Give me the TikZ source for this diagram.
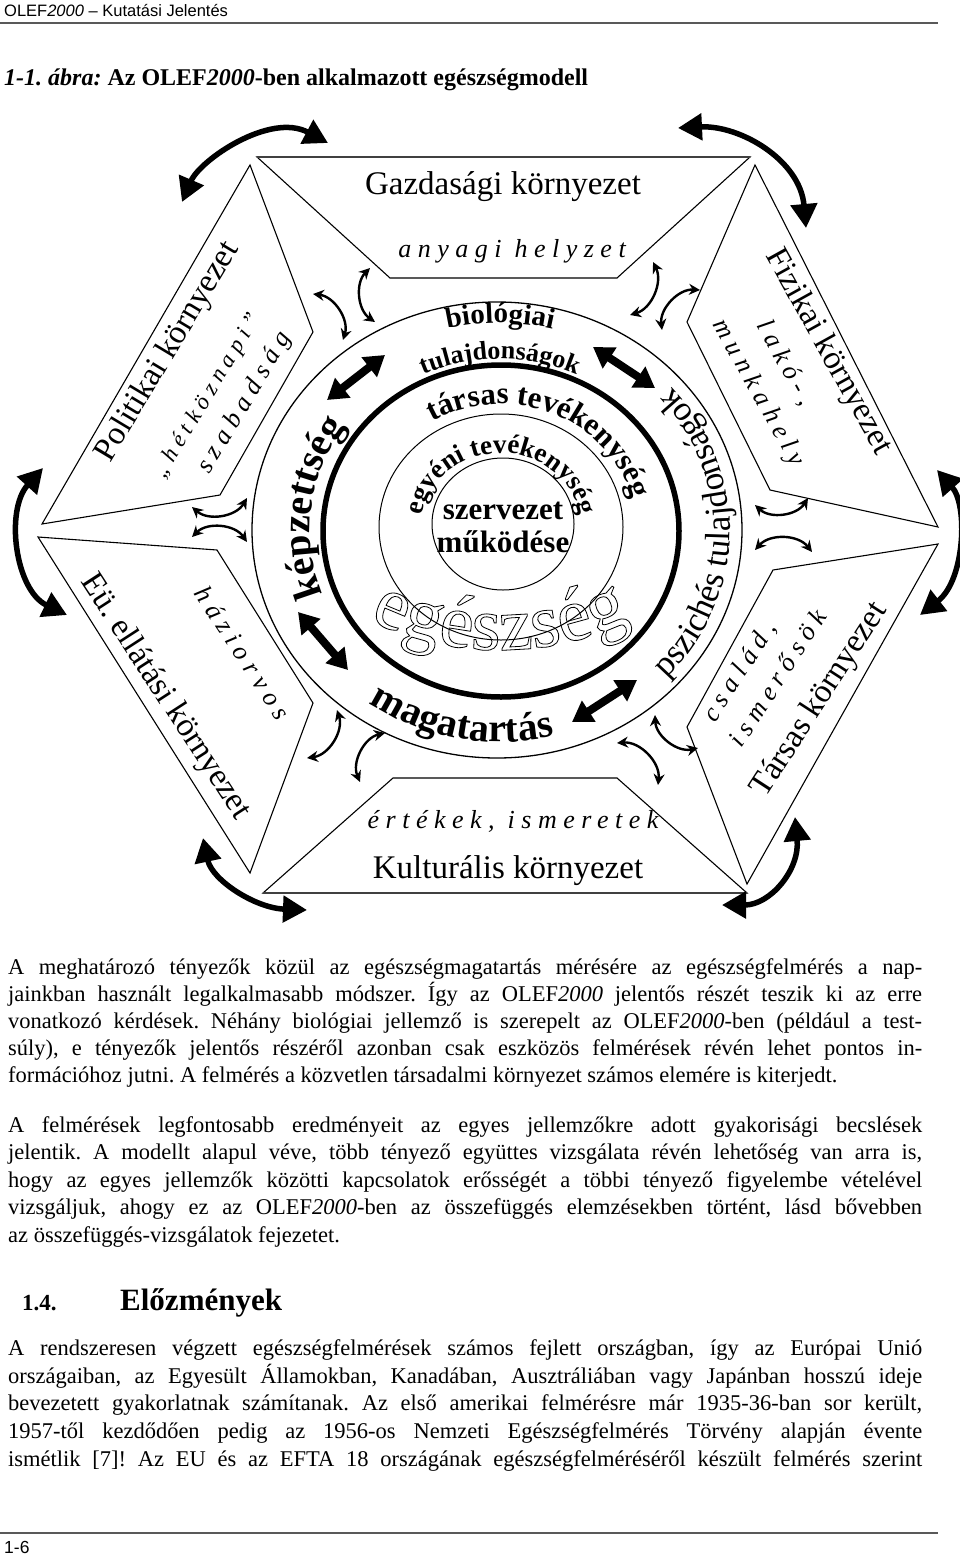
\documentclass[tikz,border=0pt]{standalone}
\usepackage{fontspec}
\setmainfont{Liberation Serif}
\newfontfamily\sansf{Liberation Sans}
\newfontfamily\scrf[LetterSpace=25]{Liberation Serif}
\usetikzlibrary{decorations.text,arrows.meta}
\newcommand\bodyfont{\fontsize{22.5}{27}\selectfont}
\newcommand\jline[1]{\makebox[914pt][s]{#1}}
\newcommand\scrtext{\fontsize{26}{30}\selectfont\scrf\itshape}
\newcommand\envfont{\fontsize{33}{36}\selectfont}
\newcommand\outlinemode{\special{pdf:literal direct 1 Tr 0.8 w}}
\newcommand\fillmode{\special{pdf:literal direct 0 Tr}}
\frenchspacing
\begin{document}
\begin{tikzpicture}[x=1pt,y=-1pt,
  shapeline/.style={line width=1.1pt, line join=miter},
  bigarr/.style={line width=5.5pt, {Triangle[length=24pt,width=26pt]}-{Triangle[length=24pt,width=26pt]}},
  smallarr/.style={line width=2.4pt, {Stealth[length=11pt,width=11pt]}-{Stealth[length=11pt,width=11pt]}},
  thickarr/.style={line width=8pt, {Triangle[length=20pt,width=24pt]}-{Triangle[length=20pt,width=24pt]}},
  rt/.style={inner sep=0pt},
]
\useasboundingbox (0,0) rectangle (960,1555);
\fill[white] (0,0) rectangle (960,1555);

% header
\node[rt, anchor=base west] (head) at (4,17) {\sansf\fontsize{16.5}{18}\selectfont OLEF\textit{2000} – Kutatási Jelentés};
\coordinate (hl1) at (0,23); \coordinate (hl2) at (938,23);
\draw[line width=2pt, black!65] (hl1) -- (hl2);
\node[rt, anchor=base west] (title) at (4,85) {\fontsize{24}{26}\selectfont\bfseries\itshape 1-1. ábra: \upshape Az OLEF\textit{2000}-ben alkalmazott egészségmodell};

% ---------- diagram shapes
\draw[shapeline] (257,157) -- (750,157) -- (617,278) -- (390,278) -- cycle;
\draw[shapeline] (250,165) -- (313,332) -- (220,495) -- (42,524) -- cycle;
\draw[shapeline] (755,165) -- (938,527) -- (770,490) -- (687,322) -- cycle;
\draw[shapeline] (938,544) -- (747,884) -- (687,727) -- (773,570) -- cycle;
\draw[shapeline] (393,778) -- (617,778) -- (747,893) -- (263,893) -- cycle;
\draw[shapeline] (38,537) -- (217,550) -- (313,703) -- (250,873) -- cycle;
\draw[line width=2pt, black!75] (257,157) -- (750,157);
\draw[line width=2pt, black!75] (263,893) -- (747,893);

% ---------- texts in shapes
\node[rt, anchor=base] (gazd) at (503,194) {\envfont Gazdasági környezet};
\node[rt, anchor=base] (anyagi) at (512,257) {\scrtext anyagi helyzet};
\node[rt, anchor=base] (kult) at (508,878) {\envfont Kulturális környezet};
\node[rt, anchor=base] (ertek) at (513,828) {\scrtext értékek, ismeretek};
\node[rt, rotate=59] (polit) at (168,352) {\envfont Politikai környezet};
\node[rt, rotate=59] (hetk) at (208,396) {\fontsize{23}{26}\selectfont\scrf\itshape „hétköznapi”};
\node[rt, rotate=59] (szab) at (245,403) {\scrtext szabadság};
\node[rt, rotate=-61] (fiz) at (828,352) {\envfont Fizikai környezet};
\node[rt, rotate=-61] (lako) at (785,363) {\scrtext lakó-,};
\node[rt, rotate=-61] (munka) at (758,393) {\scrtext munkahely};
\node[rt, rotate=-57] (eu) at (165,697) {\envfont Eü. ellátási környezet};
\node[rt, rotate=-57] (hazi) at (243,653) {\scrtext háziorvos};
\node[rt, rotate=57] (tars) at (820,700) {\envfont Társas környezet};
\node[rt, rotate=57] (csal) at (740,672) {\scrtext család,};
\node[rt, rotate=57] (ismer) at (777,678) {\scrtext ismerősök};

% ---------- big hollow egészség
\path[decorate, decoration={text along path, text align=center,
     text={|\fontsize{76}{76}\selectfont\outlinemode|egészség}}]
     (500,350) ++(126:300) arc[start angle=126, end angle=54, radius=300];
\node[rt] (resetmode) at (500,350) {\fillmode};

% ---------- circles
\draw[line width=1.3pt] (497,530) ellipse [x radius=245, y radius=228];
\draw[line width=5.5pt] (501,531) ellipse [x radius=178, y radius=166];
\draw[line width=1pt] (501,527) ellipse [x radius=122, y radius=113];
\draw[line width=1pt] (503,524) ellipse [x radius=71, y radius=66];

% ---------- ring texts
\path[decorate, decoration={text along path, text align=center,
  text={|\fontsize{29}{30}\selectfont\bfseries|biológiai}}]
  (500,530) ++(220:221 and 207) arc[start angle=220, end angle=320, x radius=221, y radius=207];
\path[decorate, decoration={text along path, text align=center,
  text={|\fontsize{26}{28}\selectfont\bfseries|tulajdonságok}}]
  (500,530) ++(215:184 and 171) arc[start angle=215, end angle=325, x radius=184, y radius=171];
\path[decorate, decoration={text along path, text align=center,
  text={|\fontsize{40}{42}\selectfont\bfseries|képzettség}}]
  (500,530) ++(130:190 and 178) arc[start angle=130, end angle=244, x radius=190, y radius=178];
\path[decorate, decoration={text along path, text align=center,
  text={|\fontsize{35}{37}\selectfont|pszichés tulajdonságok}}]
  (500,530) ++(58:230 and 215) arc[start angle=58, end angle=-56, x radius=230, y radius=215];
\path[decorate, decoration={text along path, text align=center,
  text={|\fontsize{40}{42}\selectfont\bfseries|magatartás}}]
  (500,530) ++(150:226 and 212) arc[start angle=150, end angle=52, x radius=226, y radius=212];
\path[decorate, decoration={text along path, text align=center,
  text={|\fontsize{31}{33}\selectfont\bfseries|társas tevékenység}}]
  (501,530) ++(220:135 and 126) arc[start angle=220, end angle=366, x radius=135, y radius=126];
\path[decorate, decoration={text along path, text align=center,
  text={|\fontsize{27}{29}\selectfont\bfseries|egyéni tevékenység}}]
  (501,527) ++(180:80 and 74) arc[start angle=180, end angle=360, x radius=80, y radius=74];

\node[rt, align=center, font=\fontsize{31}{33}\selectfont\bfseries] (szerv) at (503,527) {szervezet\\működése};

% ---------- big corner arrows
\coordinate (tl1) at (182,202); \coordinate (tl2) at (328,143);
\draw[bigarr] (tl1) .. controls (200,160) and (270,112) .. (tl2);
\coordinate (tr1) at (678,128); \coordinate (tr2) at (806,228);
\draw[bigarr] (tr1) .. controls (740,125) and (800,160) .. (tr2);
\coordinate (r1) at (937,470); \coordinate (r2) at (920,615);
\draw[bigarr] (r1) .. controls (968,505) and (965,580) .. (r2);
\coordinate (l1) at (43,468); \coordinate (l2) at (67,615);
\draw[bigarr] (l1) .. controls (5,510) and (15,590) .. (l2);
\coordinate (bl1) at (203,838); \coordinate (bl2) at (307,910);
\draw[bigarr] (bl1) .. controls (212,880) and (255,908) .. (bl2);
\coordinate (br1) at (795,817); \coordinate (br2) at (722,905);
\draw[bigarr] (br1) .. controls (800,870) and (770,905) .. (br2);

% ---------- small curved arrows
\coordinate (a1s) at (313,294); \coordinate (a1e) at (343,340);
\draw[smallarr] (a1s) to[bend left=50] (a1e);
\coordinate (a2s) at (370,268); \coordinate (a2e) at (375,322);
\draw[smallarr] (a2s) to[bend right=50] (a2e);
\coordinate (b1s) at (653,262); \coordinate (b1e) at (630,315);
\draw[smallarr] (b1s) to[bend left=50] (b1e);
\coordinate (b2s) at (700,290); \coordinate (b2e) at (662,330);
\draw[smallarr] (b2s) to[bend right=50] (b2e);
\coordinate (c1s) at (755,505); \coordinate (c1e) at (808,498);
\draw[smallarr] (c1s) to[bend right=50] (c1e);
\coordinate (c2s) at (755,550); \coordinate (c2e) at (812,552);
\draw[smallarr] (c2s) to[bend left=50] (c2e);
\coordinate (d1s) at (655,715); \coordinate (d1e) at (698,748);
\draw[smallarr] (d1s) to[bend right=50] (d1e);
\coordinate (d2s) at (617,743); \coordinate (d2e) at (658,785);
\draw[smallarr] (d2s) to[bend left=50] (d2e);
\coordinate (e1s) at (337,710); \coordinate (e1e) at (307,758);
\draw[smallarr] (e1s) to[bend left=50] (e1e);
\coordinate (e2s) at (385,733); \coordinate (e2e) at (360,782);
\draw[smallarr] (e2s) to[bend right=50] (e2e);
\coordinate (f1s) at (192,507); \coordinate (f1e) at (247,498);
\draw[smallarr] (f1s) to[bend right=50] (f1e);
\coordinate (f2s) at (192,537); \coordinate (f2e) at (247,542);
\draw[smallarr] (f2s) to[bend left=50] (f2e);

% ---------- thick straight arrows
\coordinate (g1s) at (327,400); \coordinate (g1e) at (385,355);
\draw[thickarr] (g1s) -- (g1e);
\coordinate (g2s) at (593,347); \coordinate (g2e) at (655,388);
\draw[thickarr] (g2s) -- (g2e);
\coordinate (g3s) at (298,612); \coordinate (g3e) at (348,670);
\draw[thickarr] (g3s) -- (g3e);
\coordinate (g4s) at (572,722); \coordinate (g4e) at (637,680);
\draw[thickarr] (g4s) -- (g4e);

% ---------- body text
\node[rt, anchor=base west] (p1a) at (8,974) {\bodyfont\jline{A meghatározó tényezők közül az egészségmagatartás mérésére az egészségfelmérés a nap-}};
\node[rt, anchor=base west] (p1b) at (8,1001) {\bodyfont\jline{jainkban használt legalkalmasabb módszer. Így az OLEF\textit{2000} jelentős részét teszik ki az erre}};
\node[rt, anchor=base west] (p1c) at (8,1028) {\bodyfont\jline{vonatkozó kérdések. Néhány biológiai jellemző is szerepelt az OLEF\textit{2000}-ben (például a test-}};
\node[rt, anchor=base west] (p1d) at (8,1055) {\bodyfont\jline{súly), e tényezők jelentős részéről azonban csak eszközös felmérések révén lehet pontos in-}};
\node[rt, anchor=base west] (p1e) at (8,1082) {\bodyfont formációhoz jutni. A felmérés a közvetlen társadalmi környezet számos elemére is kiterjedt.};

\node[rt, anchor=base west] (p2a) at (8,1132) {\bodyfont\jline{A felmérések legfontosabb eredményeit az egyes jellemzőkre adott gyakorisági becslések}};
\node[rt, anchor=base west] (p2b) at (8,1159) {\bodyfont\jline{jelentik. A modellt alapul véve, több tényező együttes vizsgálata révén lehetőség van arra is,}};
\node[rt, anchor=base west] (p2c) at (8,1187) {\bodyfont\jline{hogy az egyes jellemzők közötti kapcsolatok erősségét a többi tényező figyelembe vételével}};
\node[rt, anchor=base west] (p2d) at (8,1214) {\bodyfont\jline{vizsgáljuk, ahogy ez az OLEF\textit{2000}-ben az összefüggés elemzésekben történt, lásd bővebben}};
\node[rt, anchor=base west] (p2e) at (8,1242) {\bodyfont az összefüggés-vizsgálatok fejezetet.};

\node[rt, anchor=base west] (secnum) at (22,1310) {\fontsize{23}{25}\selectfont\bfseries 1.4.};
\node[rt, anchor=base west] (sectitle) at (120,1310) {\fontsize{31}{33}\selectfont\bfseries Előzmények};

\node[rt, anchor=base west] (p3a) at (8,1355) {\bodyfont\jline{A rendszeresen végzett egészségfelmérések számos fejlett országban, így az Európai Unió}};
\node[rt, anchor=base west] (p3b) at (8,1383) {\bodyfont\jline{országaiban, az Egyesült Államokban, Kanadában, Ausztráliában vagy Japánban hosszú ideje}};
\node[rt, anchor=base west] (p3c) at (8,1410) {\bodyfont\jline{bevezetett gyakorlatnak számítanak. Az első amerikai felmérésre már 1935-36-ban sor került,}};
\node[rt, anchor=base west] (p3d) at (8,1438) {\bodyfont\jline{1957-től kezdődően pedig az 1956-os Nemzeti Egészségfelmérés Törvény alapján évente}};
\node[rt, anchor=base west] (p3e) at (8,1466) {\bodyfont\jline{ismétlik [7]! Az EU és az EFTA 18 országának egészségfelméréséről készült felmérés szerint}};

% footer
\coordinate (fl1) at (0,1533); \coordinate (fl2) at (938,1533);
\draw[line width=2pt, black!65] (fl1) -- (fl2);
\node[rt, anchor=base west] (pnum) at (4,1553) {\sansf\fontsize{17.5}{19}\selectfont 1-6};
\end{tikzpicture}
\end{document}
